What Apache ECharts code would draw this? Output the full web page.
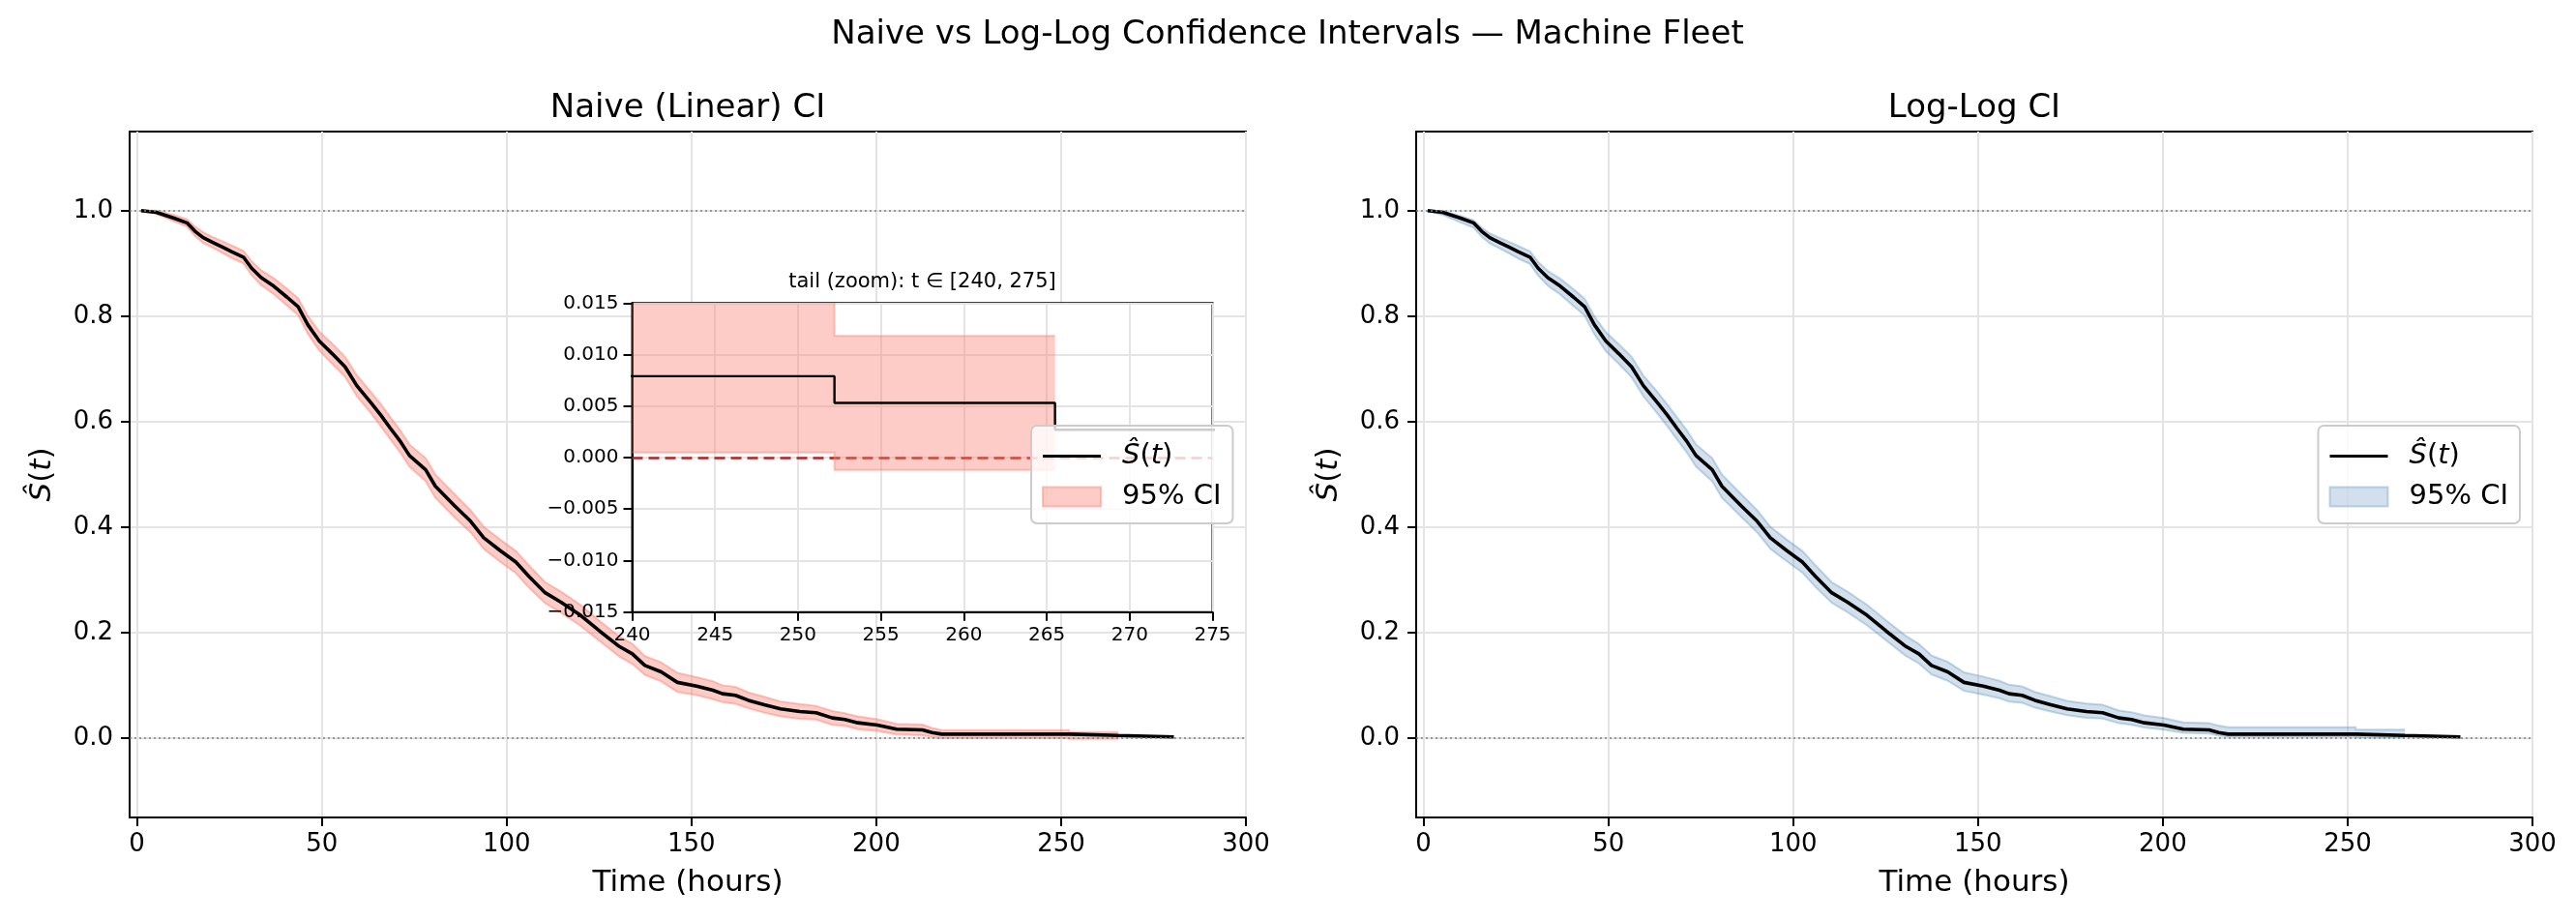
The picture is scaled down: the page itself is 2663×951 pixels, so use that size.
<!DOCTYPE html>
<html>
<head>
<meta charset="utf-8">
<title>Naive vs Log-Log Confidence Intervals</title>
<script src="https://cdn.jsdelivr.net/npm/echarts@6.0.0/dist/echarts.min.js"></script>
<style>
  html, body { margin: 0; padding: 0; background: #fff; }
  #chart { width: 2663px; height: 951px; }
</style>
</head>
<body>
<div id="chart"></div>
<script>
// Kaplan-Meier estimate (time in hours, survival)
var kmTime = [1.1, 5.2, 10.0, 13.5, 15.7, 17.9, 20.5, 23.1, 25.7, 28.8, 31.0, 33.6, 37.0, 40.6, 43.6, 46.2,
  49.3, 52.8, 56.3, 59.5, 63.2, 65.9, 68.5, 71.1, 73.7, 78.1, 80.7, 85.9, 90.3, 93.8, 98.2, 102.5, 106.0,
  110.4, 114.7, 120.0, 125.2, 130.5, 134.0, 137.4, 141.8, 146.2, 151.4, 155.8, 158.4, 161.9, 165.4, 169.7,
  174.1, 179.3, 183.7, 188.1, 191.5, 195.0, 200.3, 205.5, 212.5, 215.1, 217.7, 252.2, 252.2, 265.5, 265.5, 280.5];
var kmSurv = [1.000, 0.997, 0.986, 0.977, 0.961, 0.949, 0.940, 0.931, 0.922, 0.912, 0.891, 0.873, 0.857, 0.836,
  0.818, 0.784, 0.753, 0.729, 0.704, 0.668, 0.637, 0.613, 0.588, 0.564, 0.536, 0.509, 0.478, 0.441, 0.411,
  0.380, 0.356, 0.334, 0.307, 0.276, 0.258, 0.233, 0.203, 0.174, 0.160, 0.138, 0.126, 0.106, 0.099, 0.091,
  0.0845, 0.0815, 0.072, 0.0637, 0.0558, 0.0509, 0.0485, 0.0386, 0.0356, 0.0294, 0.0252, 0.0173, 0.0160,
  0.0110, 0.0079, 0.0079, 0.0053, 0.0053, 0.0027, 0.0027];

// naive (linear) CI: half width around S(t), band stops at t = 265.5
var naiveHalf = [0, 0.003, 0.006, 0.007, 0.009, 0.010, 0.010, 0.011, 0.012, 0.012, 0.013, 0.014, 0.015, 0.016,
  0.016, 0.017, 0.018, 0.019, 0.019, 0.020, 0.020, 0.021, 0.021, 0.021, 0.021, 0.022, 0.022, 0.022, 0.021,
  0.021, 0.021, 0.021, 0.021, 0.020, 0.020, 0.020, 0.019, 0.019, 0.019, 0.018, 0.018, 0.018, 0.017, 0.017,
  0.016, 0.016, 0.015, 0.015, 0.014, 0.014, 0.013, 0.013, 0.012, 0.012, 0.011, 0.010, 0.010, 0.0085, 0.0074,
  0.0074, 0.0065, 0.0065];

// log-log CI: distance above and below S(t)
var loglogUp = [0, 0.002, 0.004, 0.005, 0.007, 0.008, 0.009, 0.010, 0.011, 0.011, 0.012, 0.013, 0.014, 0.015,
  0.015, 0.016, 0.017, 0.018, 0.019, 0.019, 0.020, 0.020, 0.021, 0.021, 0.021, 0.022, 0.022, 0.022, 0.021,
  0.021, 0.021, 0.021, 0.021, 0.020, 0.020, 0.020, 0.020, 0.020, 0.019, 0.019, 0.019, 0.019, 0.018, 0.018,
  0.017, 0.017, 0.016, 0.016, 0.015, 0.015, 0.015, 0.014, 0.014, 0.014, 0.013, 0.013, 0.013, 0.013, 0.013,
  0.013, 0.011, 0.011];
var loglogDown = [0, 0.005, 0.008, 0.009, 0.010, 0.011, 0.011, 0.012, 0.013, 0.013, 0.014, 0.015, 0.016, 0.017,
  0.017, 0.018, 0.019, 0.019, 0.020, 0.020, 0.021, 0.021, 0.021, 0.021, 0.021, 0.022, 0.022, 0.021, 0.021,
  0.021, 0.020, 0.020, 0.020, 0.019, 0.019, 0.019, 0.018, 0.018, 0.018, 0.017, 0.017, 0.016, 0.016, 0.015,
  0.015, 0.014, 0.014, 0.013, 0.012, 0.012, 0.011, 0.010, 0.010, 0.009, 0.009, 0.007, 0.007, 0.006, 0.005,
  0.005, 0.0036, 0.0036];

var xTicks = [0, 50, 100, 150, 200, 250, 300];
var yTicks = [0, 0.2, 0.4, 0.6, 0.8, 1.0];

var FONT = 'DejaVu Sans';
var SUPTITLE = 'Naive vs Log-Log Confidence Intervals \u2014 Machine Fleet';
var LINE_NAME = '\u015c(t)';
var BAND_NAME = '95% CI';

var chart = echarts.init(document.getElementById('chart'));

var kmData = kmTime.map(function (t, i) { return [t, kmSurv[i]]; });

function bandRows(lowOff, highOff) {
  var rows = [];
  for (var i = 0; i < lowOff.length; i++) {
    rows.push([kmTime[i], kmSurv[i] - lowOff[i], kmSurv[i] + highOff[i]]);
  }
  return rows;
}
var naiveRows = bandRows(naiveHalf, naiveHalf);
var loglogRows = bandRows(loglogDown, loglogUp);

var PINK = 'rgba(250,128,114,0.4)', PINK_EDGE = 'rgba(250,128,114,0.45)';
var BLUE = 'rgba(70,130,180,0.25)', BLUE_EDGE = 'rgba(70,130,180,0.3)';

function bandSeries(gi, rows, fill, edge, z) {
  return {
    name: BAND_NAME, type: 'custom', xAxisIndex: gi, yAxisIndex: gi, z: z, silent: true,
    itemStyle: { color: fill },
    encode: { x: 0, y: [1, 2] },
    data: rows,
    renderItem: function (params, api) {
      if (params.dataIndex !== 0) return null;
      var top = [], bot = [];
      for (var i = 0; i < rows.length; i++) {
        top.push(api.coord([rows[i][0], rows[i][2]]));
        bot.push(api.coord([rows[i][0], rows[i][1]]));
      }
      var cs = params.coordSys;
      var clip = { type: 'rect', shape: { x: cs.x, y: cs.y, width: cs.width, height: cs.height } };
      return {
        type: 'group',
        children: [
          { type: 'polygon', shape: { points: top.concat(bot.slice().reverse()) }, style: { fill: fill }, clipPath: clip },
          { type: 'polyline', shape: { points: top }, style: { fill: null, stroke: edge, lineWidth: 2 }, clipPath: clip },
          { type: 'polyline', shape: { points: bot }, style: { fill: null, stroke: edge, lineWidth: 2 }, clipPath: clip }
        ]
      };
    }
  };
}

function kmSeries(gi, width, z, marks) {
  return {
    name: LINE_NAME, type: 'line', xAxisIndex: gi, yAxisIndex: gi, z: z,
    data: kmData, showSymbol: false, symbol: 'none', clip: true, silent: true,
    lineStyle: { color: '#000', width: width },
    itemStyle: { color: '#000' },
    markLine: marks
  };
}

var dottedRefs = {
  silent: true, symbol: ['none', 'none'], label: { show: false },
  lineStyle: { color: '#808080', width: 1.5, type: [2, 3] },
  data: [{ yAxis: 1 }, { yAxis: 0 }]
};
var zeroDash = {
  silent: true, symbol: ['none', 'none'], label: { show: false },
  lineStyle: { color: '#b22222', width: 2.6, type: [11, 6] },
  data: [{ yAxis: 0 }]
};

var richName = {
  i: { fontFamily: FONT, fontStyle: 'italic', fontSize: 31, color: '#000' },
  n: { fontFamily: FONT, fontSize: 31, color: '#000' }
};

function mainX(gi) {
  return {
    type: 'value', gridIndex: gi, min: -2, max: 300, splitNumber: 6,
    name: 'Time (hours)', nameLocation: 'middle', nameGap: 52,
    nameTextStyle: { fontFamily: FONT, fontSize: 31, color: '#000' },
    axisLine: { show: true, onZero: false, lineStyle: { color: '#000', width: 2 } },
    axisTick: { show: true, length: 9, customValues: xTicks, lineStyle: { color: '#000', width: 2 } },
    axisLabel: { customValues: xTicks, margin: 15, fontFamily: FONT, fontSize: 26, color: '#000' },
    splitLine: { show: true, lineStyle: { color: '#e4e4e4', width: 2 } }
  };
}
function mainY(gi) {
  return {
    type: 'value', gridIndex: gi, min: -0.15, max: 1.15, splitNumber: 6,
    name: '{i|\u015c}{n|(}{i|t}{n|)}', nameLocation: 'middle', nameGap: 75,
    nameTextStyle: { fontFamily: FONT, fontSize: 31, color: '#000', rich: richName },
    axisLine: { show: true, onZero: false, lineStyle: { color: '#000', width: 2 } },
    axisTick: { show: true, length: 9, customValues: yTicks, lineStyle: { color: '#000', width: 2 } },
    axisLabel: {
      customValues: yTicks, margin: 17, fontFamily: FONT, fontSize: 26, color: '#000',
      formatter: function (v) { return v.toFixed(1); }
    },
    splitLine: { show: true, lineStyle: { color: '#e4e4e4', width: 2 } }
  };
}

function legendFor(left, fill, edge) {
  return {
    left: left, top: 440, orient: 'vertical', selectedMode: false, z: 20,
    padding: [17, 12, 13, 11], itemWidth: 60, itemHeight: 20, itemGap: 13,
    backgroundColor: 'rgba(255,255,255,0.8)', borderColor: '#cccccc', borderWidth: 2, borderRadius: 6,
    textStyle: {
      fontFamily: FONT, fontSize: 29, color: '#000',
      rich: {
        g: { width: 17 },
        i: { fontFamily: FONT, fontStyle: 'italic', fontSize: 29, color: '#000' },
        n: { fontFamily: FONT, fontSize: 29, color: '#000' }
      }
    },
    formatter: function (name) {
      return name === LINE_NAME ? '{g|}{i|\u015c}{n|(}{i|t}{n|)}' : '{g|}{n|' + name + '}';
    },
    data: [
      { name: LINE_NAME, icon: 'path://M0,0L20,0L20,1L0,1Z', itemStyle: { color: '#000', borderWidth: 0 } },
      { name: BAND_NAME, icon: 'rect', itemStyle: { color: fill, borderColor: edge, borderWidth: 2 } }
    ]
  };
}

var titleStyle = { fontFamily: FONT, fontSize: 34, fontWeight: 'normal', color: '#000' };

var option = {
  animation: false,
  backgroundColor: '#fff',
  title: [
    { text: SUPTITLE, left: 1331, top: 19, textAlign: 'center', padding: 0, textStyle: titleStyle },
    { text: 'Naive (Linear) CI', left: 711, top: 95, textAlign: 'center', padding: 0, textStyle: titleStyle },
    { text: 'Log-Log CI', left: 2041, top: 95, textAlign: 'center', padding: 0, textStyle: titleStyle },
    { text: 'tail (zoom): t \u2208 [240, 275]', left: 953.5, top: 281, textAlign: 'center', padding: 0,
      textStyle: { fontFamily: FONT, fontSize: 21, fontWeight: 'normal', color: '#000' } }
  ],
  grid: [
    { left: 134, top: 136, width: 1154, height: 709, show: true, borderColor: '#000', borderWidth: 2,
      backgroundColor: 'transparent', containLabel: false, outerBoundsMode: 'none' },
    { left: 1464, top: 136, width: 1154, height: 709, show: true, borderColor: '#000', borderWidth: 2,
      backgroundColor: 'transparent', containLabel: false, outerBoundsMode: 'none' },
    { left: 653.5, top: 313.3, width: 600, height: 319.4, show: true, borderColor: '#000', borderWidth: 2,
      backgroundColor: '#fff', containLabel: false, outerBoundsMode: 'none', z: 3 }
  ],
  xAxis: [
    mainX(0), mainX(1),
    {
      type: 'value', gridIndex: 2, min: 240, max: 275, interval: 5, z: 4,
      axisLine: { show: true, onZero: false, lineStyle: { color: '#000', width: 2 } },
      axisTick: { show: true, length: 9, lineStyle: { color: '#000', width: 2 } },
      axisLabel: { margin: 14, fontFamily: FONT, fontSize: 20, color: '#000' },
      splitLine: { show: true, lineStyle: { color: '#e4e4e4', width: 2 } }
    }
  ],
  yAxis: [
    mainY(0), mainY(1),
    {
      type: 'value', gridIndex: 2, min: -0.015, max: 0.015, interval: 0.005, z: 4,
      axisLine: { show: true, onZero: false, lineStyle: { color: '#000', width: 2 } },
      axisTick: { show: true, length: 9, lineStyle: { color: '#000', width: 2 } },
      axisLabel: {
        margin: 14, fontFamily: FONT, fontSize: 20, color: '#000',
        formatter: function (v) { return (v < -1e-9 ? '\u2212' : '') + Math.abs(v).toFixed(3); }
      },
      splitLine: { show: true, lineStyle: { color: '#e4e4e4', width: 2 } }
    }
  ],
  legend: [legendFor(1066, PINK, PINK_EDGE), legendFor(2396.5, BLUE, BLUE_EDGE)],
  series: [
    bandSeries(0, naiveRows, PINK, PINK_EDGE, 1),
    kmSeries(0, 3.6, 3, dottedRefs),
    bandSeries(1, loglogRows, BLUE, BLUE_EDGE, 1),
    kmSeries(1, 3.6, 3, dottedRefs),
    bandSeries(2, naiveRows, PINK, PINK_EDGE, 6),
    kmSeries(2, 2.4, 7, zeroDash)
  ]
};

chart.setOption(option);
</script>
</body>
</html>
